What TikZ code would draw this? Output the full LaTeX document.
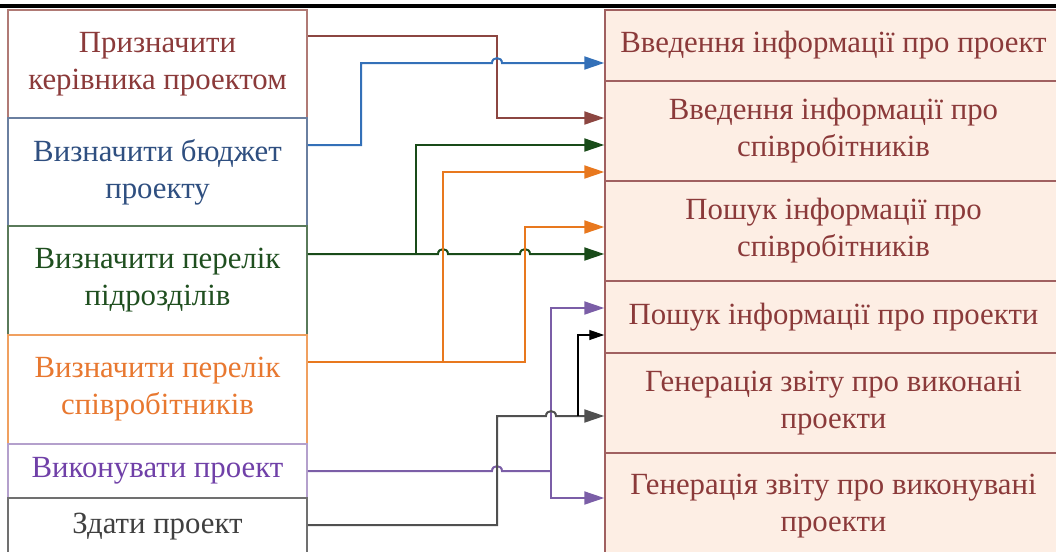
\documentclass[tikz,border=0pt]{standalone}
\usepackage{fontspec}
\setmainfont{Liberation Serif}
\usetikzlibrary{arrows.meta}
\definecolor{cbrown}{RGB}{140,70,65}
\definecolor{cblue}{RGB}{51,112,184}
\definecolor{cgreen}{RGB}{25,75,25}
\definecolor{corange}{RGB}{232,120,30}
\definecolor{cpurple}{RGB}{123,94,167}
\definecolor{cgray}{RGB}{80,80,80}
\definecolor{b1}{RGB}{176,122,117}
\definecolor{b2}{RGB}{106,127,160}
\definecolor{b3}{RGB}{90,122,90}
\definecolor{b4}{RGB}{240,160,96}
\definecolor{b5}{RGB}{180,160,204}
\definecolor{b6}{RGB}{112,112,112}
\definecolor{t1}{RGB}{139,58,58}
\definecolor{t2}{RGB}{47,79,128}
\definecolor{t3}{RGB}{31,79,31}
\definecolor{t4}{RGB}{232,120,48}
\definecolor{t5}{RGB}{112,64,168}
\definecolor{t6}{RGB}{64,64,64}
\definecolor{rborder}{RGB}{160,96,96}
\definecolor{rfill}{RGB}{253,238,228}
\definecolor{rtext}{RGB}{139,58,58}
\begin{document}
\begin{tikzpicture}[x=1pt,y=-1pt,
  lbox/.style={draw, line width=1.5pt, rectangle, minimum width=299pt, inner sep=0pt, align=center, font=\fontsize{30.8}{37}\selectfont},
  rbox/.style={draw=rborder, fill=rfill, line width=1.5pt, rectangle, minimum width=457pt, inner sep=0pt, align=center, text=rtext, font=\fontsize{30.8}{37}\selectfont},
  conn/.style={line width=2pt, -{Triangle[length=20pt,width=13pt]}},
  thinconn/.style={line width=1.3pt, -{Triangle[length=15pt,width=10pt]}}
]
\useasboundingbox (0,0) rectangle (1056,551);
\clip (0,0) rectangle (1056,551);
\fill[white] (0,0) rectangle (1056,551);
\draw[line width=3.5pt] (0,6) -- (1056,6);

% left boxes
\node[lbox, draw=b1, text=t1, minimum height=108pt] (l1) at (157.5,64) {Призначити\\керівника проектом};
\node[lbox, draw=b2, text=t2, minimum height=108pt] (l2) at (157.5,172) {Визначити бюджет\\проекту};
\node[lbox, draw=b3, text=t3, minimum height=109pt] (l3) at (157.5,280.5) {Визначити перелік\\підрозділів};
\node[lbox, draw=b4, text=t4, minimum height=109pt] (l4) at (157.5,389.5) {Визначити перелік\\співробітників};
\node[lbox, draw=b5, text=t5, minimum height=54pt] (l5) at (157.5,471) {Виконувати проект};
\node[lbox, draw=b6, text=t6, minimum height=58pt] (l6) at (157.5,527) {Здати проект};

% right boxes
\node[rbox, minimum height=71pt] (r1) at (833.5,45.5) {Введення інформації про проект};
\node[rbox, minimum height=100pt] (r2) at (833.5,131) {Введення інформації про\\співробітників};
\node[rbox, minimum height=100pt] (r3) at (833.5,231) {Пошук інформації про\\співробітників};
\node[rbox, minimum height=72pt] (r4) at (833.5,317) {Пошук інформації про проекти};
\node[rbox, minimum height=100pt] (r5) at (833.5,403) {Генерація звіту про виконані\\проекти};
\node[rbox, minimum height=106pt] (r6) at (833.5,506) {Генерація звіту про виконувані\\проекти};

% junction coordinates
\coordinate (gj) at (416,254);
\coordinate (oj1) at (443,362);
\coordinate (pj) at (551,471);
\coordinate (kj) at (578,416);

% brown
\draw[conn, cbrown] (l1.east |- 0,36) -- (497,36) -- (497,118) -- (r2.west |- 0,118);
% blue
\draw[conn, cblue] (l2.east |- 0,145) -- (361,145) -- (361,63) -- (492,63) .. controls (492,56.5) and (502,56.5) .. (502,63) -- (r1.west |- 0,63);
% green
\draw[conn, cgreen] (l3.east |- 0,254) -- (438,254) .. controls (438,247.5) and (448,247.5) .. (448,254) -- (520,254) .. controls (520,247.5) and (530,247.5) .. (530,254) -- (r3.west |- 0,254);
\draw[conn, cgreen] (gj) -- (416,145) -- (r2.west |- 0,145);
% orange
\draw[conn, corange] (l4.east |- 0,362) -- (525,362) -- (525,227) -- (r3.west |- 0,227);
\draw[conn, corange] (oj1) -- (443,172) -- (r2.west |- 0,172);
% purple
\draw[line width=2pt, cpurple] (l5.east |- 0,471) -- (492,471) .. controls (492,464.5) and (502,464.5) .. (502,471) -- (pj);
\draw[conn, cpurple] (pj) -- (551,308) -- (r4.west |- 0,308);
\draw[conn, cpurple] (pj) -- (551,498) -- (r6.west |- 0,498);
% gray
\draw[conn, cgray] (l6.east |- 0,525) -- (497,525) -- (497,416) -- (546,416) .. controls (546,409.5) and (556,409.5) .. (556,416) -- (r5.west |- 0,416);
\draw[thinconn, black] (kj) -- (578,335) -- (r4.west |- 0,335);
\end{tikzpicture}
\end{document}
